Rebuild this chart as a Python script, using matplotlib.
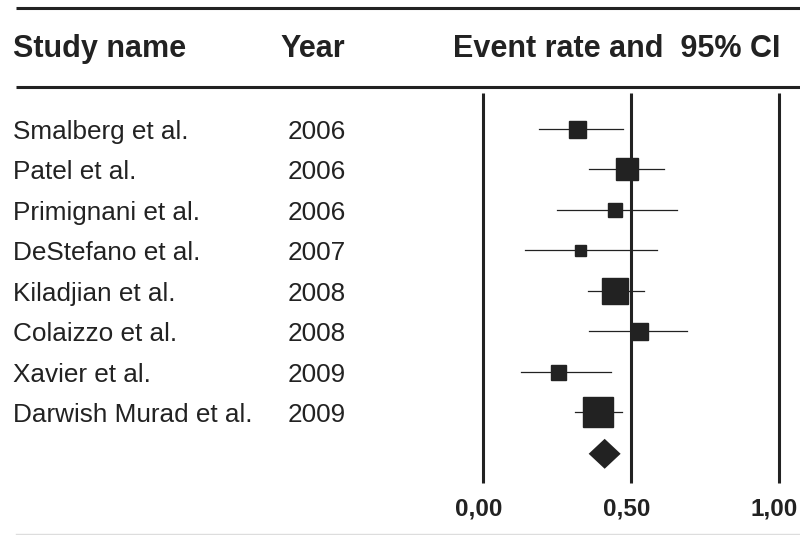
import matplotlib
matplotlib.use("Agg")
import matplotlib.pyplot as plt
import matplotlib.transforms as mtrans
import numpy as np

plt.rcParams['font.family'] = ['Liberation Sans', 'DejaVu Sans']

studies = ["Smalberg et al.", "Patel et al.", "Primignani et al.", "DeStefano et al.",
           "Kiladjian et al.", "Colaizzo et al.", "Xavier et al.", "Darwish Murad et al."]
years = ["2006", "2006", "2006", "2007", "2008", "2008", "2009", "2009"]
rate = [0.318, 0.485, 0.446, 0.328, 0.446, 0.526, 0.252, 0.387]
lower = [0.190, 0.358, 0.251, 0.141, 0.354, 0.358, 0.127, 0.310]
upper = [0.473, 0.613, 0.656, 0.587, 0.544, 0.688, 0.431, 0.469]
weights = [17, 22, 14, 11, 27, 17, 15, 30]   # relative study weight (box size)
pooled = 0.411
pooled_lo = 0.357
pooled_hi = 0.465
ticks = [0.0, 0.5, 1.0]
tick_labels = ["0,00", "0,50", "1,00"]

fig = plt.figure(figsize=(8, 5.35), dpi=100)
ax = fig.add_axes([0, 0, 1, 1])
ax.set_xlim(-483 / 296, (800 - 483) / 296)
ax.set_ylim(10.025, -3.185)
ax.axis("off")

tr = mtrans.blended_transform_factory(ax.transAxes, ax.transData)
ink = "#222222"

# header rules
ax.plot([0.02, 1.0], [-2.99, -2.99], transform=tr, color=ink, lw=2.2, solid_capstyle="butt")
ax.plot([0.02, 1.0], [-1.04, -1.04], transform=tr, color=ink, lw=2.2, solid_capstyle="butt")
ax.plot([0.02, 1.0], [10.0, 10.0], transform=tr, color="#dddddd", lw=1.0)

hdr_y = -1.78
ax.text(13 / 800, hdr_y, "Study name", transform=tr, fontsize=22, fontweight="bold",
        color=ink, va="baseline", ha="left")
ax.text(280 / 800, hdr_y, "Year", transform=tr, fontsize=22, fontweight="bold",
        color=ink, va="baseline", ha="left")
ax.text(453 / 800, hdr_y, "Event rate and  95% CI", transform=tr, fontsize=22,
        fontweight="bold", color=ink, va="baseline", ha="left")

# reference lines
for t in ticks:
    ax.plot([t, t], [-0.89, 8.74], color=ink, lw=2.2, solid_capstyle="butt")

for t, lab in zip(ticks, tick_labels):
    ax.text(t - 0.015, 9.38, lab, fontsize=17.5, fontweight="bold", color=ink,
            ha="center", va="center")

rows = np.arange(len(studies))
for i in rows:
    ax.text(13 / 800, i + 0.235, studies[i], transform=tr, fontsize=18.8, color=ink,
            va="baseline", ha="left")
    ax.text(288 / 800, i + 0.235, years[i], transform=tr, fontsize=18.8, color=ink,
            va="baseline", ha="left")
    ax.plot([lower[i], upper[i]], [i, i], color=ink, lw=0.9)
    ax.plot(rate[i], i, marker="s", markersize=weights[i] * 0.72, color=ink, mec=ink)

# pooled estimate diamond
yd = len(studies) + 0.02
ax.fill([pooled_lo, pooled, pooled_hi, pooled], [yd, yd - 0.37, yd, yd + 0.37],
        color=ink, lw=0)

fig.savefig("out.png", dpi=100)
